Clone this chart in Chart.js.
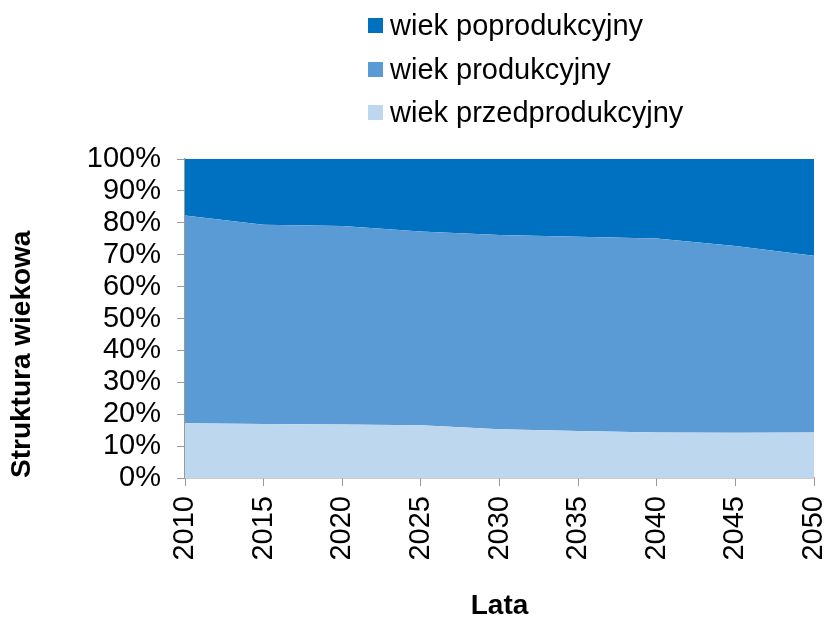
<!DOCTYPE html>
<html>
<head>
<meta charset="utf-8">
<script src="https://cdn.jsdelivr.net/npm/chart.js@4"></script>
<style>
  html, body { margin: 0; padding: 0; background: #fff; }
  #wrap { position: relative; width: 827px; height: 620px; font-family: "Liberation Sans", Arial, sans-serif; }
  #legend { position: absolute; left: 368px; top: 4px; }
  .item { display: flex; align-items: center; height: 43.5px; font-size: 29px; color: #000; }
  .box { width: 15px; height: 15px; margin-right: 7px; }
</style>
</head>
<body>
<div id="wrap">
  <canvas id="chart" width="827" height="620"></canvas>
  <div id="legend"></div>
</div>
<script>
// Age structure (share of population, %)
const years = ['2010', '2015', '2020', '2025', '2030', '2035', '2040', '2045', '2050'];
const preWorking = [17.2, 16.9, 16.8, 16.5, 15.3, 14.7, 14.3, 14.2, 14.3];
const working = [65.1, 62.5, 62.2, 60.8, 60.9, 60.9, 60.8, 58.5, 55.4];
const postWorking = [17.7, 20.6, 21.0, 22.7, 23.8, 24.4, 24.9, 27.3, 30.3];
const yTicks = [0, 10, 20, 30, 40, 50, 60, 70, 80, 90, 100];

const FONT = '"Liberation Sans", Arial, sans-serif';
const AXIS = '#9a9a9a';

const series = [
  { label: 'wiek przedprodukcyjny', data: preWorking, color: '#BDD7EE', fill: 'origin' },
  { label: 'wiek produkcyjny', data: working, color: '#5B9BD5', fill: '-1' },
  { label: 'wiek poprodukcyjny', data: postWorking, color: '#0070C0', fill: '-1' },
];

new Chart(document.getElementById('chart'), {
  type: 'line',
  data: {
    labels: years,
    datasets: series.map(s => ({
      label: s.label,
      data: s.data,
      backgroundColor: s.color,
      borderColor: s.color,
      borderWidth: 0,
      pointRadius: 0,
      fill: s.fill,
      tension: 0,
    })),
  },
  options: {
    responsive: false,
    animation: false,
    layout: { padding: { top: 159, right: 13, bottom: 0, left: 0 } },
    plugins: { legend: { display: false }, tooltip: { enabled: false } },
    scales: {
      x: {
        offset: false,
        grid: { drawOnChartArea: false, drawTicks: true, tickLength: 8, color: AXIS },
        border: { color: AXIS, width: 1.5 },
        ticks: { color: '#000', font: { family: FONT, size: 29 }, minRotation: 90, maxRotation: 90, padding: 10, autoSkip: false },
        title: { display: true, text: 'Lata', color: '#000', font: { family: FONT, size: 28, weight: 'bold', lineHeight: 1 }, padding: { top: 0, bottom: 0 } },
        afterFit: s => { s.height = 142; s.paddingLeft = 0; s.paddingRight = 0; },
      },
      y: {
        stacked: true,
        min: 0,
        max: 100,
        afterBuildTicks: s => { s.ticks = yTicks.map(v => ({ value: v })); },
        grid: { drawOnChartArea: false, drawTicks: true, tickLength: 8, color: AXIS },
        border: { color: AXIS, width: 1.5 },
        ticks: { color: '#000', font: { family: FONT, size: 29 }, padding: 16, autoSkip: false, callback: v => v + '%' },
        title: { display: true, text: 'Struktura wiekowa', align: 'start', color: '#000', font: { family: FONT, size: 28, weight: 'bold', lineHeight: 1 }, padding: { top: 8, bottom: 0 } },
        afterFit: s => { s.width = 185; s.paddingTop = 0; s.paddingBottom = 0; },
      },
    },
  },
});

// legend, top series first
document.getElementById('legend').innerHTML = series.slice().reverse().map(s =>
  `<div class="item"><span class="box" style="background:${s.color}"></span>${s.label}</div>`
).join('');
</script>
</body>
</html>
